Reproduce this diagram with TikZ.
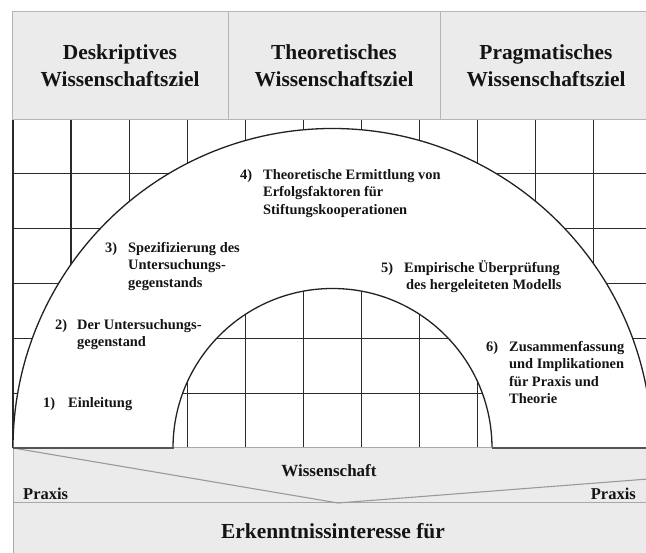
\documentclass[tikz,border=0pt]{standalone}
\usepackage{fontspec}
\setmainfont{Liberation Serif}
\definecolor{bandfill}{HTML}{EBEBEB}
\definecolor{hdrline}{HTML}{B5B5B5}
\definecolor{gridcol}{HTML}{2A2A2A}
\definecolor{arccol}{HTML}{222222}
\definecolor{basecol}{HTML}{555555}
\definecolor{sepcol}{HTML}{A8A8A8}
\definecolor{diagcol}{HTML}{9A9A9A}
\definecolor{txt}{HTML}{141414}
\newcommand\itemfont{\fontsize{14.4}{17.5}\selectfont\bfseries}
\newcommand\hdrfont{\fontsize{21.4}{27}\selectfont\bfseries}
\newcommand\wissfont{\fontsize{17}{20}\selectfont\bfseries}
\newcommand\praxfont{\fontsize{16.5}{20}\selectfont\bfseries}
\begin{document}
\begin{tikzpicture}[x=1pt,y=1pt,
  hdrbox/.style={draw=hdrline, fill=bandfill, line width=0.9pt},
  gridline/.style={draw=gridcol, line width=1.3pt},
  arcline/.style={draw=arccol, line width=1.3pt},
  baseseg/.style={draw=basecol, line width=2pt},
  sepline/.style={draw=sepcol, line width=1pt},
  diagline/.style={draw=diagcol, line width=1.1pt},
  itemtext/.style={anchor=base west, inner sep=0pt, font=\itemfont, text=txt},
  hdrtext/.style={align=center, inner sep=0pt, font=\hdrfont, text=txt},
]
\useasboundingbox (0,0) rectangle (646,553);
\clip (0,0) rectangle (646,553);
\fill[white] (0,0) rectangle (646,553);
% grid
\foreach \k in {0,...,11} \draw[gridline] ({13+58.08*\k},105) -- ({13+58.08*\k},434);
\foreach \j in {1,...,5} \draw[gridline] (13,{105+54.83*\j}) -- (660,{105+54.83*\j});
% half annulus
\fill[white] (13,105) arc[start angle=180, end angle=0, radius=319.5] -- (492,105) arc[start angle=0, end angle=180, radius=159.5] -- cycle;
\draw[arcline] (13,105) arc[start angle=180, end angle=0, radius=319.5];
\draw[arcline] (173,105) arc[start angle=180, end angle=0, radius=159.5];
% header
\draw[hdrbox] (12.5,434) rectangle (228,542);
\draw[hdrbox] (228,434) rectangle (440,542);
\draw[hdrbox] (440,434) rectangle (652,542);
\node[hdrtext] (h1) at (120,487) {Deskriptives\\Wissenschaftsziel};
\node[hdrtext] (h2) at (334,487) {Theoretisches\\Wissenschaftsziel};
\node[hdrtext] (h3) at (546,487) {Pragmatisches\\Wissenschaftsziel};
% bands
\fill[bandfill] (13,0) rectangle (660,105);
\draw[sepline] (13,105) -- (660,105);
\draw[sepline] (13,50) -- (660,50);
\draw[sepline] (13,0) -- (13,105);
\coordinate (dl) at (13,105);
\coordinate (dv) at (338,50);
\coordinate (dr) at (700,78);
\draw[diagline] (dl) -- (dv) -- (dr);
\draw[baseseg] (12.5,105) -- (173.5,105);
\draw[baseseg] (491.5,105) -- (660,105);
% labels
\node[itemtext] (i1) at (43,145.5) {\begin{tabular}[t]{@{}l@{\hspace{13pt}}l@{}}1) & Einleitung\end{tabular}};
\node[itemtext] (i2) at (55,223.5) {\begin{tabular}[t]{@{}l@{\hspace{10pt}}l@{}}2) & Der Untersuchungs-\\ & gegenstand\end{tabular}};
\node[itemtext] (i3) at (105,300.5) {\begin{tabular}[t]{@{}l@{\hspace{11pt}}l@{}}3) & Spezifizierung des\\ & Untersuchungs-\\ & gegenstands\end{tabular}};
\node[itemtext] (i4) at (240,373.5) {\begin{tabular}[t]{@{}l@{\hspace{11pt}}l@{}}4) & Theoretische Ermittlung von\\ & Erfolgsfaktoren für\\ & Stiftungskooperationen\end{tabular}};
\node[itemtext] (i5) at (381,280.5) {\begin{tabular}[t]{@{}l@{\hspace{11pt}}l@{}}5) & Empirische Überprüfung\\ & \hspace{2pt}des hergeleiteten Modells\end{tabular}};
\node[itemtext] (i6) at (486,201.5) {\begin{tabular}[t]{@{}l@{\hspace{11pt}}l@{}}6) & Zusammenfassung\\ & und Implikationen\\ & für Praxis und\\ & Theorie\end{tabular}};
\node[anchor=base, inner sep=0pt, font=\wissfont, text=txt] (wiss) at (329,76.5) {Wissenschaft};
\node[anchor=base west, inner sep=0pt, font=\praxfont, text=txt] (px1) at (23,53) {Praxis};
\node[anchor=base east, inner sep=0pt, font=\praxfont, text=txt] (px2) at (636,53) {Praxis};
\node[anchor=base, inner sep=0pt, font=\hdrfont, text=txt] (erk) at (333,14) {Erkenntnissinteresse für};
\end{tikzpicture}
\end{document}
